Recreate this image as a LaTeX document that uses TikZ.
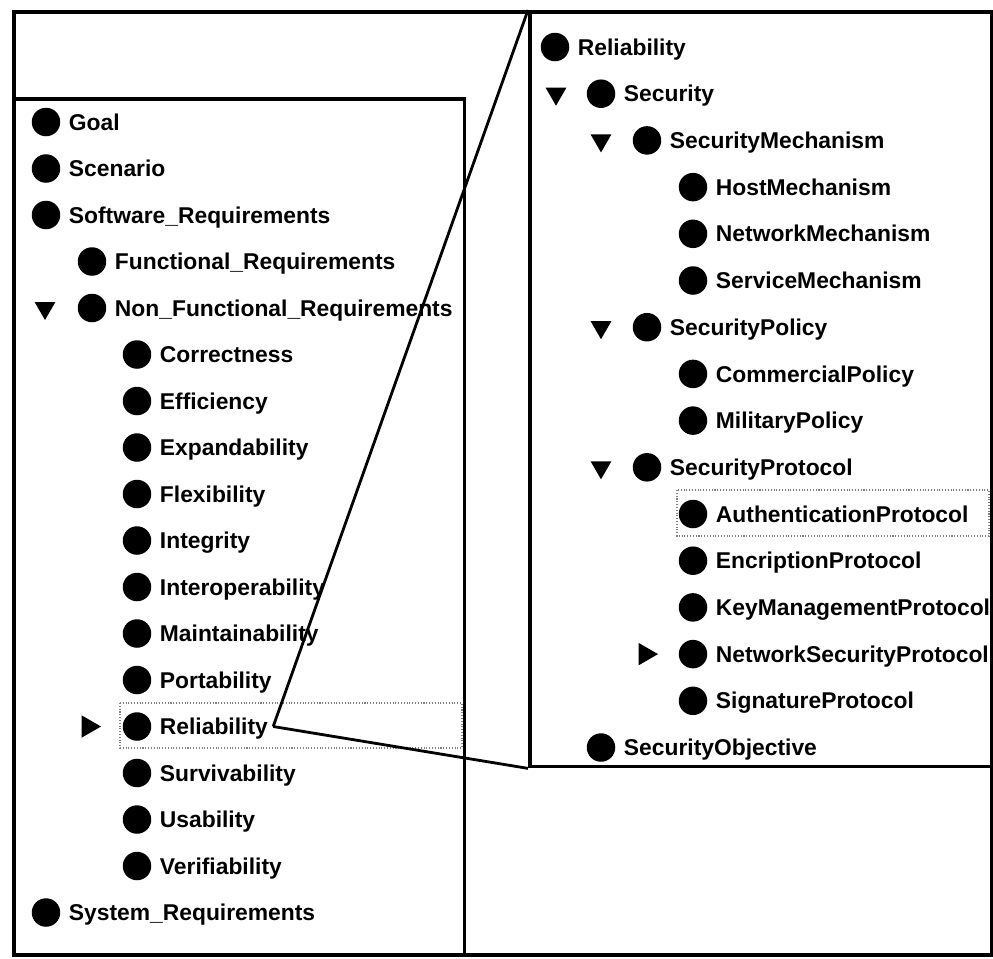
\documentclass[tikz,border=0pt]{standalone}
\usepackage{fontspec}
\setsansfont{Liberation Sans}
\usetikzlibrary{positioning}
\usetikzlibrary{shapes.geometric}

\begin{document}
\begin{tikzpicture}[x=0.02cm, y=-0.02cm,
    bul/.style={circle, fill=black, inner sep=0pt, minimum size=0.57cm},
    lbl/.style={font=\sffamily\bfseries\fontsize{13}{15}\selectfont, inner sep=0pt, text height=0.41cm, text depth=0.083cm},
    opened/.style={regular polygon, regular polygon sides=3, shape border rotate=180, fill=black, inner sep=0pt, minimum size=0.48cm},
    closed/.style={regular polygon, regular polygon sides=3, shape border rotate=-90, fill=black, inner sep=0pt, minimum size=0.52cm},
    panel/.style={draw, line width=2pt, anchor=north west, inner sep=0pt},
    selbox/.style={draw=gray, densely dotted, line width=0.6pt},
    zoomline/.style={line width=1.6pt}]

        \useasboundingbox (0,0) rectangle (993,958);

        % Define frames
        \node[panel, line width=2.4pt, minimum width=19.56cm, minimum height=18.86cm] (frame) at (12,10) {};
        \node[panel, minimum width=9.02cm, minimum height=17.12cm] (lpanel) at (12,97) {};

        % Selection marks
        \draw[selbox] (120,703) rectangle (462,748);
        \draw[selbox] (677,490) rectangle (989,536);

        % Left tree
        \node[bul]                          (goalB) at (46,122) {};
        \node[lbl, right=0.16cm of goalB]   (goal) {Goal};
        \node[bul]                          (scenB) at (46,168.5) {};
        \node[lbl, right=0.16cm of scenB]   (scen) {Scenario};
        \node[bul]                          (swB) at (46,215) {};
        \node[lbl, right=0.16cm of swB]     (sw) {Software\_Requirements};
        \node[bul]                          (funcB) at (92,261.5) {};
        \node[lbl, right=0.16cm of funcB]   (func) {Functional\_Requirements};
        \node[opened]                       (nfT) at (45,308) {};
        \node[bul]                          (nfB) at (92,308) {};
        \node[lbl, right=0.16cm of nfB]     (nf) {Non\_Functional\_Requirements};
        \node[bul]                          (corrB) at (137,354.5) {};
        \node[lbl, right=0.16cm of corrB]   (corr) {Correctness};
        \node[bul]                          (effB) at (137,401) {};
        \node[lbl, right=0.16cm of effB]    (eff) {Efficiency};
        \node[bul]                          (expB) at (137,447.5) {};
        \node[lbl, right=0.16cm of expB]    (exp) {Expandability};
        \node[bul]                          (flexB) at (137,494) {};
        \node[lbl, right=0.16cm of flexB]   (flex) {Flexibility};
        \node[bul]                          (integB) at (137,540.5) {};
        \node[lbl, right=0.16cm of integB]  (integ) {Integrity};
        \node[bul]                          (interB) at (137,587) {};
        \node[lbl, right=0.16cm of interB]  (inter) {Interoperability};
        \node[bul]                          (maintB) at (137,633.5) {};
        \node[lbl, right=0.16cm of maintB]  (maint) {Maintainability};
        \node[bul]                          (portB) at (137,680) {};
        \node[lbl, right=0.16cm of portB]   (port) {Portability};
        \node[closed]                       (relT) at (88,726.5) {};
        \node[bul]                          (relB) at (137,726.5) {};
        \node[lbl, right=0.16cm of relB]    (rel) {Reliability};
        \node[bul]                          (survB) at (137,773) {};
        \node[lbl, right=0.16cm of survB]   (surv) {Survivability};
        \node[bul]                          (useB) at (137,819.5) {};
        \node[lbl, right=0.16cm of useB]    (use) {Usability};
        \node[bul]                          (verB) at (137,866) {};
        \node[lbl, right=0.16cm of verB]    (ver) {Verifiability};
        \node[bul]                          (sysB) at (46,912.5) {};
        \node[lbl, right=0.16cm of sysB]    (sys) {System\_Requirements};

        % Right tree
        \begin{scope}
        \clip (528,10) rectangle (990,765);
        \node[bul]                          (rrelB) at (555,47) {};
        \node[lbl, right=0.16cm of rrelB]   (rrel) {Reliability};
        \node[opened]                       (secT) at (556,93.7) {};
        \node[bul]                          (secB) at (601,93.7) {};
        \node[lbl, right=0.16cm of secB]    (sec) {Security};
        \node[opened]                       (mechT) at (601,140.4) {};
        \node[bul]                          (mechB) at (647,140.4) {};
        \node[lbl, right=0.16cm of mechB]   (mech) {SecurityMechanism};
        \node[bul]                          (hostB) at (693,187.1) {};
        \node[lbl, right=0.16cm of hostB]   (host) {HostMechanism};
        \node[bul]                          (netB) at (693,233.8) {};
        \node[lbl, right=0.16cm of netB]    (net) {NetworkMechanism};
        \node[bul]                          (servB) at (693,280.5) {};
        \node[lbl, right=0.16cm of servB]   (serv) {ServiceMechanism};
        \node[opened]                       (polT) at (601,327.2) {};
        \node[bul]                          (polB) at (647,327.2) {};
        \node[lbl, right=0.16cm of polB]    (pol) {SecurityPolicy};
        \node[bul]                          (comB) at (693,373.9) {};
        \node[lbl, right=0.16cm of comB]    (com) {CommercialPolicy};
        \node[bul]                          (milB) at (693,420.6) {};
        \node[lbl, right=0.16cm of milB]    (mil) {MilitaryPolicy};
        \node[opened]                       (protT) at (601,467.3) {};
        \node[bul]                          (protB) at (647,467.3) {};
        \node[lbl, right=0.16cm of protB]   (prot) {SecurityProtocol};
        \node[bul]                          (authB) at (693,514) {};
        \node[lbl, right=0.16cm of authB]   (auth) {AuthenticationProtocol};
        \node[bul]                          (encB) at (693,560.7) {};
        \node[lbl, right=0.16cm of encB]    (enc) {EncriptionProtocol};
        \node[bul]                          (keyB) at (693,607.4) {};
        \node[lbl, right=0.16cm of keyB]    (key) {KeyManagementProtocol};
        \node[closed]                       (nspT) at (645,654.1) {};
        \node[bul]                          (nspB) at (693,654.1) {};
        \node[lbl, right=0.16cm of nspB]    (nsp) {NetworkSecurityProtocol};
        \node[bul]                          (sigB) at (693,700.8) {};
        \node[lbl, right=0.16cm of sigB]    (sig) {SignatureProtocol};
        \node[bul]                          (objB) at (601,747.5) {};
        \node[lbl, right=0.16cm of objB]    (obj) {SecurityObjective};
        \end{scope}
        \node[panel, minimum width=9.24cm, minimum height=15.1cm] (rpanel) at (528,10) {};

        % Connect the zoom
        \coordinate[right=0.1cm of rel] (zsrc);
        \draw[zoomline] (zsrc) -- (rpanel.north west);
        \draw[zoomline] (zsrc) -- (rpanel.south west);
      \end{tikzpicture}
\end{document}
